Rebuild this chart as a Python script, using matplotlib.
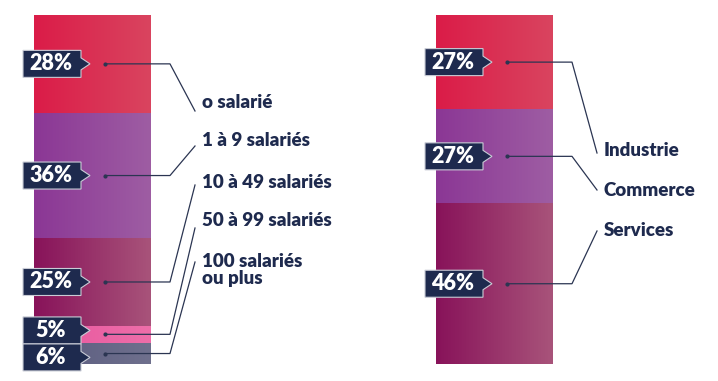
import numpy as np
import matplotlib
matplotlib.use("Agg")
import matplotlib.pyplot as plt
from matplotlib.patches import Polygon
from matplotlib.colors import LinearSegmentedColormap

# ---- data ----
size_labels = ["o salarié", "1 à 9 salariés", "10 à 49 salariés", "50 à 99 salariés", "100 salariés\nou plus"]
size_values = [28, 36, 25, 5, 6]
sector_labels = ["Industrie", "Commerce", "Services"]
sector_values = [27, 27, 46]

# ---- style ----
NAVY = "#1e2a4e"
LINE = "#2b3552"
grad_left = {
    "red": ("#db1c48", "#d9445f"),
    "purple": ("#8b3795", "#9e5da3"),
    "wine": ("#88135a", "#a8537a"),
    "pink": ("#e6559e", "#ee6ea9"),
    "slate": ("#585a7e", "#6f708d"),
}
size_colors = ["red", "purple", "wine", "pink", "slate"]
sector_colors = ["red", "purple", "wine"]

W, H = 718, 381
fig = plt.figure(figsize=(W / 100, H / 100), dpi=100)
bar_top_px, bar_bot_px = 15, 364
ax = fig.add_axes([0, (H - bar_bot_px) / H, 1, (bar_bot_px - bar_top_px) / H])
ax.set_xlim(0, W)
ax.set_ylim(100, 0)
ax.axis("off")
P = 100 / (bar_bot_px - bar_top_px)  # pct per pixel

FONT = ["Lato", "DejaVu Sans"]


def draw_stack(xc, values, colors, labels, text_y, end_y):
    width = 117
    bottoms = np.concatenate([[0], np.cumsum(values)[:-1]])
    centers = bottoms + np.array(values) / 2
    bars = ax.bar(xc, values, bottom=bottoms, width=width, color="none", linewidth=0)
    for b, c in zip(bars, colors):
        cmap = LinearSegmentedColormap.from_list("g", list(grad_left[c]))
        x0, y0, w, h = b.get_x(), b.get_y(), b.get_width(), b.get_height()
        im = ax.imshow(np.linspace(0, 1, 64).reshape(1, -1), cmap=cmap, aspect="auto",
                       extent=[x0, x0 + w, y0 + h, y0], interpolation="bicubic", zorder=1)
        im.set_clip_path(b)
    ax.set_xlim(0, W)
    ax.set_ylim(100, 0)

    # label box positions: push overlapping boxes apart
    box_h = 27 * P
    bc = list(centers)
    for i in range(len(bc) - 1):
        gap = bc[i + 1] - bc[i]
        if gap < box_h:
            d = (box_h - gap) / 2
            bc[i] -= d
            bc[i + 1] += d

    bar_left = xc - width / 2
    bar_right = xc + width / 2
    bl, br, tip = bar_left - 11, bar_left + 47, bar_left + 56
    for v, cy, sy, lab, ty, ey in zip(values, bc, centers, labels, text_y, end_y):
        hh = box_h / 2
        ah = 6 * P
        poly = Polygon([[bl, cy - hh], [br, cy - hh], [br, cy - ah], [tip, cy],
                        [br, cy + ah], [br, cy + hh], [bl, cy + hh]],
                       closed=True, facecolor=NAVY, edgecolor="#c9ccd6", linewidth=0.8,
                       zorder=3, clip_on=False)
        ax.add_patch(poly)
        ax.text((bl + br) / 2 - 1, cy, f"{v}%", color="white", fontsize=15.5, fontweight="heavy",
                family=FONT, ha="center", va="center", zorder=4, clip_on=False)
        # leader line
        dot_x = bar_left + 71
        elbow_x = bar_right + 19
        end_x = bar_right + 44
        ax.plot([dot_x, elbow_x, end_x], [sy, sy, (ey - bar_top_px) * P], color=LINE,
                linewidth=0.9, zorder=5, clip_on=False)
        ax.plot([dot_x], [sy], marker="o", markersize=2, color=LINE, zorder=5, clip_on=False)
        ax.text(end_x + 7, (ty - bar_top_px) * P, lab, color=NAVY, fontsize=13.5,
                fontweight="heavy", family=FONT, ha="left", va="center", linespacing=1.05,
                zorder=5, clip_on=False)


draw_stack(92.5, size_values, size_colors, size_labels,
           text_y=[103, 141, 183, 221, 270], end_y=[111, 146, 185, 228, 262])
draw_stack(494.5, sector_values, sector_colors, sector_labels,
           text_y=[151, 190, 230], end_y=[153, 190, 231])

fig.savefig("out.png", dpi=100, facecolor="white")
